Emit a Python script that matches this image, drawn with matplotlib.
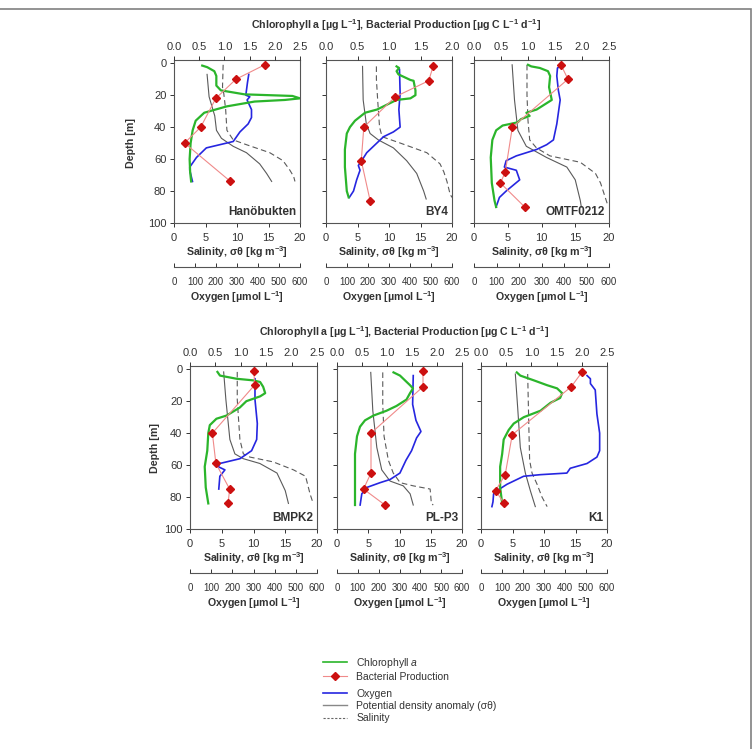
"""Six-station depth profiles: Chl a, bacterial production, O2, sigma-theta, salinity."""

import numpy as np
import matplotlib
matplotlib.use("Agg")
import matplotlib.pyplot as plt
from matplotlib.lines import Line2D
from matplotlib.patches import Rectangle

plt.rcParams["font.family"] = ["Liberation Sans", "DejaVu Sans"]
plt.rcParams["mathtext.fontset"] = "custom"
plt.rcParams["mathtext.rm"] = "Liberation Sans"
plt.rcParams["mathtext.bf"] = "Liberation Sans:bold"
plt.rcParams["mathtext.it"] = "Liberation Sans:italic"

GREEN, BLUE, SALMON, DRED, GREY = "#2bb52b", "#2626e0", "#f08a8a", "#cc1010", "#5a5a5a"
INK = "#333333"
W, H = 752, 749

# ---- Hanöbukten ----
hano_chl_d = [1.5, 2.5, 5, 8, 14, 17, 19.5, 20.5, 22, 23, 24, 27, 31, 36, 42, 50, 60, 68, 74]
hano_chl = [0.56, 0.66, 0.80, 0.84, 0.84, 0.93, 1.4, 2.35, 2.5, 2.2, 1.6, 1.05, 0.6, 0.43, 0.37, 0.33, 0.31, 0.32, 0.34]
hano_bp_d = [1, 10, 22, 40, 50, 74]
hano_bp = [1.80, 1.23, 0.83, 0.53, 0.21, 1.12]
hano_o2_d = [7, 12, 20, 21, 23, 29, 34, 38, 43, 49, 51, 53, 59, 65, 67, 74]
hano_o2 = [356, 350, 342, 361, 348, 369, 369, 353, 314, 282, 218, 154, 107, 75, 75, 88]
hano_sig_d = [7, 21, 33, 42, 47, 52, 56, 63, 69, 74]
hano_sig = [5.25, 5.57, 6.47, 6.74, 7.53, 9.39, 11.5, 13.6, 14.7, 15.5]
hano_sal_d = [1, 15, 19, 29, 42, 48, 51, 56, 61, 67, 71, 74]
hano_sal = [7.8, 7.7, 7.9, 8.2, 8.4, 9.4, 11.5, 15.2, 17.3, 18.4, 19.0, 19.2]

# ---- BY4 ----
by4_chl_d = [2, 3, 5, 7, 10.5, 11, 17, 20, 22, 23, 29, 31, 36, 40, 44, 54, 65, 80, 84]
by4_chl = [1.12, 1.16, 1.12, 1.15, 1.34, 1.39, 1.42, 1.42, 1.34, 1.12, 0.81, 0.62, 0.46, 0.38, 0.33, 0.30, 0.30, 0.33, 0.36]
by4_bp_d = [2, 11, 21, 40, 61, 86]
by4_bp = [1.70, 1.63, 1.10, 0.60, 0.56, 0.70]
by4_o2_d = [4, 19, 29, 40, 43, 46, 50, 56, 61, 64, 67, 73, 80, 84]
by4_o2 = [350, 353, 347, 353, 321, 274, 242, 194, 170, 154, 162, 146, 131, 111]
by4_sig_d = [2, 23, 38, 44, 48, 53, 61, 69, 80, 85]
by4_sig = [5.8, 5.9, 6.4, 7.0, 8.3, 10.7, 12.8, 14.4, 15.5, 15.9]
by4_sal_d = [2, 10, 23, 40, 46, 50, 56, 63, 68, 74, 82, 84]
by4_sal = [8.0, 8.0, 8.2, 8.5, 8.9, 11.8, 16.0, 18.1, 18.7, 19.2, 19.7, 20.0]

# ---- OMTF0212 ----
omtf_chl_d = [1, 2, 3, 5, 8, 15, 23, 29, 31, 33, 35, 37, 39, 42, 48, 59, 75, 86, 90]
omtf_chl = [1.0, 1.06, 1.22, 1.37, 1.41, 1.39, 1.44, 1.16, 0.97, 1.03, 0.87, 0.81, 0.53, 0.41, 0.34, 0.31, 0.33, 0.38, 0.41]
omtf_bp_d = [1, 10, 40, 68, 75, 90]
omtf_bp = [1.61, 1.74, 0.71, 0.58, 0.49, 0.94]
omtf_o2_d = [2, 3, 8, 17, 23, 38, 48, 51, 54, 58, 61, 65, 67, 73, 80, 84, 90]
omtf_o2 = [383, 371, 368, 375, 383, 368, 353, 323, 278, 188, 143, 135, 188, 203, 143, 113, 98]
omtf_sig_d = [1, 23, 42, 52, 59, 65, 73, 86, 90]
omtf_sig = [5.65, 6.0, 6.5, 7.75, 10.75, 13.75, 15.0, 15.75, 15.9]
omtf_sal_d = [1, 20, 36, 48, 53, 58, 62, 69, 75, 88]
omtf_sal = [7.85, 7.85, 8.0, 8.25, 9.25, 11.25, 15.75, 18.0, 18.75, 19.75]

# ---- BMPK2 ----
bmpk_chl_d = [1.7, 4, 6, 7, 8, 11, 15, 17, 20, 24, 29, 31, 35, 40, 51, 61, 74, 84]
bmpk_chl = [0.54, 0.59, 0.92, 1.25, 1.38, 1.44, 1.48, 1.38, 1.11, 0.98, 0.72, 0.52, 0.39, 0.36, 0.34, 0.29, 0.31, 0.36]
bmpk_bp_d = [1, 10, 40, 59, 75, 84]
bmpk_bp = [1.26, 1.27, 0.44, 0.51, 0.78, 0.75]
bmpk_o2_d = [6, 19, 34, 44, 51, 56, 59, 61, 63, 67, 75]
bmpk_o2 = [307, 307, 318, 315, 291, 236, 141, 133, 165, 141, 136]
bmpk_sig_d = [1.7, 19, 44, 53, 56, 59, 65, 76, 84]
bmpk_sig = [5.3, 5.65, 6.28, 7.07, 8.39, 11.0, 13.7, 15.0, 15.5]
bmpk_sal_d = [1.7, 19, 44, 53, 55, 58, 63, 67, 78, 84]
bmpk_sal = [7.44, 7.44, 7.86, 8.4, 9.45, 13.1, 16.3, 18.2, 18.9, 19.4]

# ---- PL-P3 ----
plp3_chl_d = [2, 4, 7, 10, 12, 15, 19, 23, 26, 29, 32, 36, 42, 53, 70, 85]
plp3_chl = [1.13, 1.26, 1.36, 1.46, 1.52, 1.46, 1.39, 1.19, 0.99, 0.73, 0.56, 0.46, 0.40, 0.36, 0.36, 0.36]
plp3_bp_d = [1, 11, 40, 65, 75, 85]
plp3_bp = [1.72, 1.72, 0.68, 0.68, 0.53, 0.96]
plp3_o2_d = [4, 22, 32, 39, 43, 51, 57, 65, 69, 71, 74, 78, 85]
plp3_o2 = [366, 363, 379, 403, 382, 358, 331, 302, 255, 207, 143, 119, 111]
plp3_sig_d = [2, 26, 49, 63, 70, 73, 78, 85]
plp3_sig = [5.4, 5.73, 6.37, 7.16, 8.49, 10.6, 11.7, 12.2]
plp3_sal_d = [2, 22, 42, 57, 65, 71, 73, 75, 84, 85]
plp3_sal = [7.32, 7.32, 7.53, 8.22, 9.0, 10.1, 12.2, 14.9, 15.1, 15.4]

# ---- K1 ----
k1_chl_d = [2, 4, 7, 10, 12, 15, 18, 21, 26, 30, 34, 38, 44, 53, 61, 74, 84]
k1_chl = [0.71, 0.78, 1.05, 1.31, 1.51, 1.61, 1.57, 1.38, 1.18, 0.85, 0.65, 0.55, 0.45, 0.42, 0.38, 0.38, 0.42]
k1_bp_d = [2, 11, 41, 66, 76, 84]
k1_bp = [2.0, 1.79, 0.62, 0.48, 0.29, 0.46]
k1_o2_d = [4, 6, 9, 13, 28, 40, 51, 55, 59, 62, 65, 66, 67, 72, 76, 78, 83, 86]
k1_o2 = [505, 521, 521, 544, 552, 565, 565, 552, 505, 425, 409, 283, 203, 124, 76, 60, 57, 52]
k1_sig_d = [3, 24, 49, 65, 76, 86]
k1_sig = [5.45, 5.82, 6.24, 7.04, 7.83, 8.62]
k1_sal_d = [3, 32, 57, 65, 72, 80, 86]
k1_sal = [7.41, 7.57, 7.72, 8.1, 8.9, 9.68, 10.5]

stations = [
    ("Hanöbukten", 2.5, hano_chl_d, hano_chl, hano_bp_d, hano_bp, hano_o2_d, hano_o2,
     hano_sig_d, hano_sig, hano_sal_d, hano_sal),
    ("BY4", 2.0, by4_chl_d, by4_chl, by4_bp_d, by4_bp, by4_o2_d, by4_o2,
     by4_sig_d, by4_sig, by4_sal_d, by4_sal),
    ("OMTF0212", 2.5, omtf_chl_d, omtf_chl, omtf_bp_d, omtf_bp, omtf_o2_d, omtf_o2,
     omtf_sig_d, omtf_sig, omtf_sal_d, omtf_sal),
    ("BMPK2", 2.5, bmpk_chl_d, bmpk_chl, bmpk_bp_d, bmpk_bp, bmpk_o2_d, bmpk_o2,
     bmpk_sig_d, bmpk_sig, bmpk_sal_d, bmpk_sal),
    ("PL-P3", 2.5, plp3_chl_d, plp3_chl, plp3_bp_d, plp3_bp, plp3_o2_d, plp3_o2,
     plp3_sig_d, plp3_sig, plp3_sal_d, plp3_sal),
    ("K1", 2.5, k1_chl_d, k1_chl, k1_bp_d, k1_bp, k1_o2_d, k1_o2,
     k1_sig_d, k1_sig, k1_sal_d, k1_sal),
]

# panel boxes in pixels (left, top, right, bottom) and oxygen axis y
boxes = [(174, 60, 300, 223), (326, 60, 452, 223), (474, 60, 609, 223),
         (190, 366, 317, 529), (337, 366, 462, 529), (481, 366, 607, 529)]
oxy_y = [267, 267, 267, 573, 573, 573]


def rect(l, t, r, b):
    return [l / W, 1 - b / H, (r - l) / W, (b - t) / H]


def fx(x):
    return x / W


def fy(y):
    return 1 - y / H


fig = plt.figure(figsize=(W / 100, H / 100), dpi=100)
TICK = dict(labelsize=8, colors=INK, width=0.7, length=3)
SUP = r"$^{\mathbf{-1}}$"
LBL = dict(ha="center", va="center", fontsize=7.7, fontweight="bold", color=INK)

for i, (name, ctop, cd, cv, bd, bv, od, ov, sd, sv, ld, lv) in enumerate(stations):
    l, t, r, b = boxes[i]
    ax = fig.add_axes(rect(l, t, r, b))
    ax.set_xlim(0, 20)
    ax.set_ylim(100, -2)
    ax.plot(sv, sd, color=GREY, lw=0.8)
    ax.plot(lv, ld, color=GREY, lw=0.8, dashes=(5, 3))
    ax.set_xticks([0, 5, 10, 15, 20])
    ax.set_yticks([0, 20, 40, 60, 80, 100])
    ax.tick_params(axis="x", direction="out", pad=4, **TICK)
    ax.tick_params(axis="y", direction="out", pad=2.5, labelleft=(i % 3 == 0), **TICK)
    for sp in ax.spines.values():
        sp.set_color("#555555")
        sp.set_linewidth(0.8)

    axo = ax.twiny()
    axo.set_xlim(0, 600)
    axo.plot(ov, od, color=BLUE, lw=1.2)
    axo.xaxis.set_visible(False)
    for sp in axo.spines.values():
        sp.set_visible(False)

    axt = ax.twiny()
    axt.set_xlim(0, ctop)
    axt.plot(cv, cd, color=GREEN, lw=1.6)
    axt.plot(bv, bd, color=SALMON, lw=0.8, marker="D", ms=4.5, mfc=DRED, mec=DRED)
    axt.set_xticks(np.arange(0, ctop + 0.01, 0.5))
    axt.xaxis.set_major_formatter(matplotlib.ticker.FormatStrFormatter("%.1f"))
    axt.tick_params(axis="x", direction="out", pad=3, **TICK)
    for sp in axt.spines.values():
        sp.set_visible(False)

    axt.text(0.97, 0.03, name, transform=axt.transAxes, ha="right", va="bottom",
             fontsize=8.5, fontweight="bold", color=INK)

    # salinity label
    cx = fx((l + r) / 2)
    fig.text(cx, fy(b + 29), r"Salinity, σθ [kg m$^{\mathbf{-3}}$]", **LBL)

    # oxygen scale
    oy = oxy_y[i]
    axx = fig.add_axes(rect(l, oy - 1, r, oy))
    axx.set_xlim(0, 600)
    axx.set_xticks(np.arange(0, 601, 100))
    axx.set_yticks([])
    for k in ("top", "left", "right"):
        axx.spines[k].set_visible(False)
    axx.spines["bottom"].set_color("#555555")
    axx.spines["bottom"].set_linewidth(0.8)
    axx.patch.set_visible(False)
    axx.tick_params(axis="x", direction="in", pad=7, labelsize=7, colors=INK, width=0.7, length=3)
    fig.text(cx, fy(oy + 30), "Oxygen [µmol L" + SUP + "]", **LBL)

# row titles and depth labels
title = "Chlorophyll a [µg L" + SUP + "], Bacterial Production [µg C L" + SUP + " d" + SUP + "]"
fig.text(fx(396), fy(25), title, **LBL)
fig.text(fx(404), fy(332), title, **LBL)
fig.text(fx(131), fy(143), "Depth [m]", rotation=90, **LBL)
fig.text(fx(155), fy(448), "Depth [m]", rotation=90, **LBL)

# legend
h_chl = Line2D([], [], color=GREEN, lw=1.2)
h_bp = Line2D([], [], color=SALMON, lw=0.8, marker="D", ms=4, mfc=DRED, mec=DRED)
h_o2 = Line2D([], [], color=BLUE, lw=1.2)
h_sig = Line2D([], [], color="#888888", lw=1.0)
h_sal = Line2D([], [], color="#666666", lw=0.8, dashes=(2, 1.5))
LEG = dict(loc="upper left", frameon=False, fontsize=7.5, handlelength=2.3, handletextpad=0.9,
           labelspacing=0.2, borderpad=0, borderaxespad=0, labelcolor=INK)
fig.legend(handles=[h_chl, h_bp], labels=[r"Chlorophyll $\mathit{a}$", "Bacterial Production"],
           bbox_to_anchor=(fx(323), fy(656)), **LEG)
fig.legend(handles=[h_o2, h_sig, h_sal],
           labels=["Oxygen", "Potential density anomaly (σθ)", "Salinity"],
           bbox_to_anchor=(fx(323), fy(689)), **LEG)

# figure frame
fig.patches.append(Rectangle((-0.01, -0.01), fx(751) + 0.01, fy(8.5) + 0.01, transform=fig.transFigure,
                             fill=False, ec="#808080", lw=1.2))

fig.savefig("out.png", dpi=100)
